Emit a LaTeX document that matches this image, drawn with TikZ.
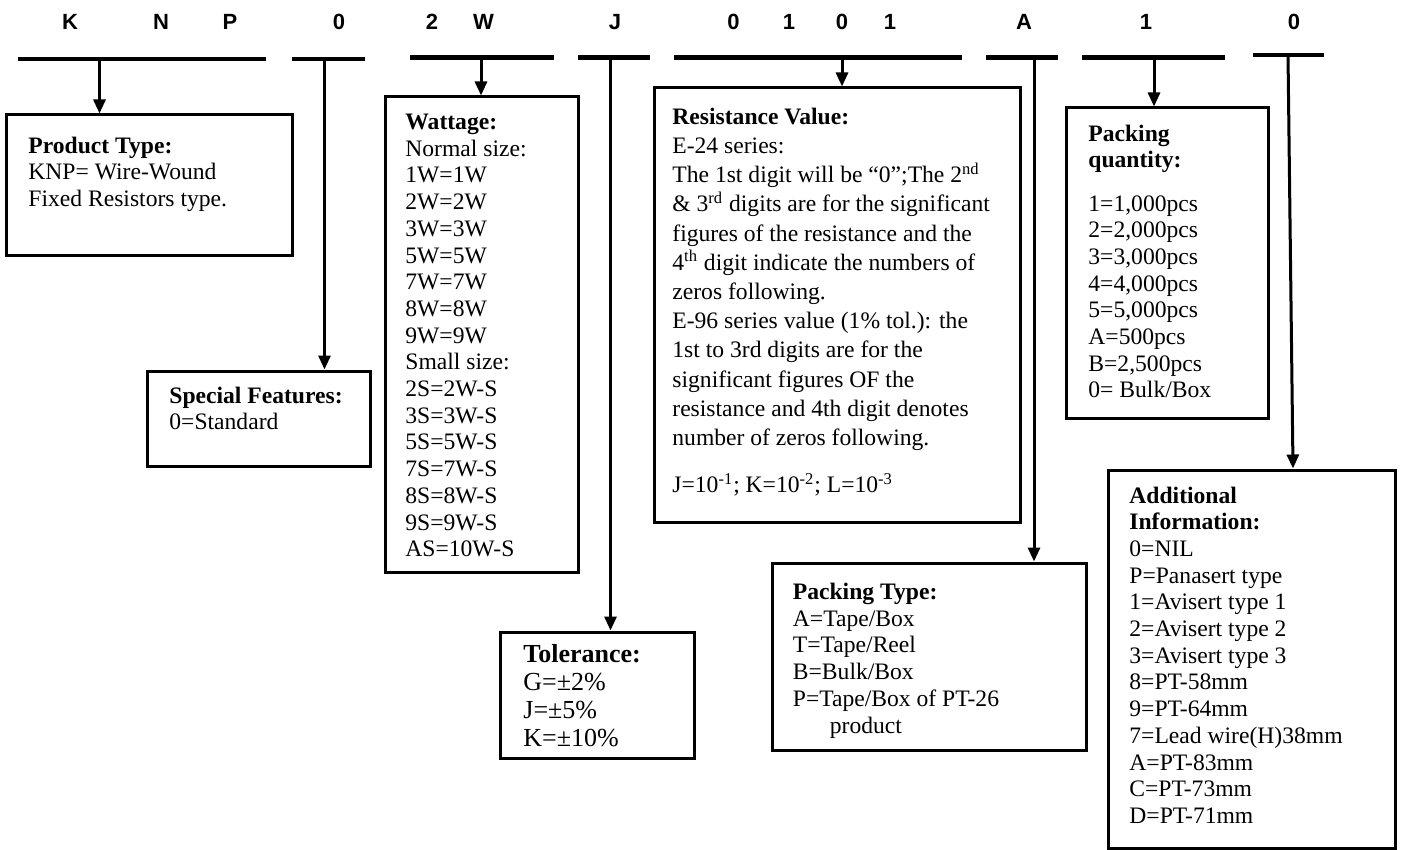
\documentclass[tikz,border=0pt]{standalone}
\usepackage{fontspec}
\setmainfont{Liberation Serif}
\newfontfamily\arialfont{Liberation Sans}
\usetikzlibrary{arrows.meta,fit}
\newcommand\bodyfnt{\fontsize{11.8pt}{13.35pt}\selectfont}
\newcommand\resfnt{\fontsize{11.8pt}{14.6pt}\selectfont}
\newcommand\tolfnt{\fontsize{13pt}{14pt}\selectfont}
\newcommand\codefnt{\arialfont\bfseries\fontsize{11pt}{13pt}\selectfont}
\begin{document}
\begin{tikzpicture}[x=0.5pt,y=-0.5pt,
  code/.style={font=\codefnt, inner sep=0pt, anchor=center},
  bar/.style={line width=2.2pt},
  box/.style={draw, line width=1.5pt, inner sep=0pt},
  txt/.style={anchor=north west, inner sep=0pt, align=left, font=\bodyfnt},
  arr/.style={line width=1.5pt, -{Triangle[width=6pt,length=7pt]}}]
\useasboundingbox (0,0) rectangle (1401,850);

% code letters
\node[code] (cK) at (70,21.7) {K};
\node[code] (cN) at (161,21.7) {N};
\node[code] (cP) at (230,21.7) {P};
\node[code] (c0a) at (339,21.7) {0};
\node[code] (c2) at (432,21.7) {2};
\node[code] (cW) at (483.5,21.7) {W};
\node[code] (cJ) at (615,21.7) {J};
\node[code] (c0b) at (733.5,21.7) {0};
\node[code] (c1a) at (789,21.7) {1};
\node[code] (c0c) at (842,21.7) {0};
\node[code] (c1b) at (890,21.7) {1};
\node[code] (cA) at (1024,21.7) {A};
\node[code] (c1c) at (1146,21.7) {1};
\node[code] (c0d) at (1294,21.7) {0};

% bars
\draw[bar] (18,59) -- (266,59);
\draw[bar] (292,59) -- (365,59);
\draw[bar] (410,57.5) -- (554,57.5);
\draw[bar] (578,57.5) -- (650,57.5);
\draw[bar] (674,57.5) -- (962,57.5);
\draw[bar] (986,57.5) -- (1058,57.5);
\draw[bar] (1082,57.5) -- (1225,57.5);
\draw[bar] (1253,55) -- (1324,55);

% boxes
\node[box, fit={(6,115) (292,255)}] (prod) {};
\node[box, fit={(147,371) (370,466)}] (spec) {};
\node[box, fit={(385,97) (578,572)}] (watt) {};
\node[box, fit={(500,632) (694,758)}] (tol) {};
\node[box, fit={(654,88) (1020,522)}] (res) {};
\node[box, fit={(772,563) (1086,750)}] (ptype) {};
\node[box, fit={(1066,108) (1268,418)}] (pqty) {};
\node[box, fit={(1108,470) (1395,848)}] (add) {};

% connector origins
\coordinate (sKNP) at (99.5,59);
\coordinate (s0a) at (324.5,59);
\coordinate (s2W) at (481,57.5);
\coordinate (sJ) at (610.5,57.5);
\coordinate (s0101) at (842,57.5);
\coordinate (sA) at (1034,57.5);
\coordinate (s1) at (1154,57.5);
\coordinate (s0d) at (1288,55);
\coordinate (e0d) at (1293,0);

% connectors
\draw[arr] (sKNP) -- (sKNP |- prod.north);
\draw[arr] (s0a) -- (s0a |- spec.north);
\draw[arr] (s2W) -- (s2W |- watt.north);
\draw[arr] (sJ) -- (sJ |- tol.north);
\draw[arr] (s0101) -- (s0101 |- res.north);
\draw[arr] (sA) -- (sA |- ptype.north);
\draw[arr] (s1) -- (s1 |- pqty.north);
\draw[arr] (s0d) -- (e0d |- add.north);

% texts
\node[txt] (tprod) at (28,134) {\strut\textbf{Product Type:}\\KNP= Wire-Wound\\Fixed Resistors type.};
\node[txt] (tspec) at (169,384) {\strut\textbf{Special Features:}\\0=Standard};
\node[txt] (twatt) at (405,110.5) {\strut\textbf{Wattage:}\\Normal size:\\1W=1W\\2W=2W\\3W=3W\\5W=5W\\7W=7W\\8W=8W\\9W=9W\\Small size:\\2S=2W-S\\3S=3W-S\\5S=5W-S\\7S=7W-S\\8S=8W-S\\9S=9W-S\\AS=10W-S};
\node[txt, font=\resfnt] (tres) at (672,103.5) {\strut\textbf{Resistance Value:}\\E-24 series:\\The 1st digit will be “0”;The 2\textsuperscript{nd}\\\& 3\textsuperscript{rd} digits are for the significant\\figures of the resistance and the\\4\textsuperscript{th} digit indicate the numbers of\\zeros following.\\E-96 series value (1\% tol.): the\\1st to 3rd digits are for the\\significant figures OF the\\resistance and 4th digit denotes\\number of zeros following.\\[9pt]J=10\textsuperscript{-1}; K=10\textsuperscript{-2}; L=10\textsuperscript{-3}};
\node[txt] (tpqty) at (1088,122) {\strut\textbf{Packing}\\\textbf{quantity:}\\[8.3pt]1=1,000pcs\\2=2,000pcs\\3=3,000pcs\\4=4,000pcs\\5=5,000pcs\\A=500pcs\\B=2,500pcs\\0= Bulk/Box};
\node[txt] (tptype) at (792.5,580.5) {\strut\textbf{Packing Type:}\\A=Tape/Box\\T=Tape/Reel\\B=Bulk/Box\\P=Tape/Box of PT-26\\\hspace*{18.5pt}product};
\node[txt, font=\tolfnt] (ttol) at (523,642) {\strut\textbf{Tolerance:}\\G=±2\%\\J=±5\%\\K=±10\%};
\node[txt] (tadd) at (1129,484) {\strut\textbf{Additional}\\\textbf{Information:}\\0=NIL\\P=Panasert type\\1=Avisert type 1\\2=Avisert type 2\\3=Avisert type 3\\8=PT-58mm\\9=PT-64mm\\7=Lead wire(H)38mm\\A=PT-83mm\\C=PT-73mm\\D=PT-71mm};
\end{tikzpicture}
\end{document}
